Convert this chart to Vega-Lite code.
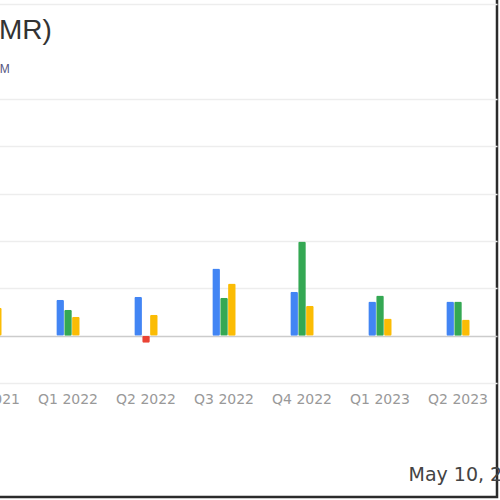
{
  "$schema": "https://vega.github.io/schema/vega-lite/v6.json",
  "width": 546,
  "height": 502,
  "autosize": {"type": "none"},
  "padding": {"left": -49, "top": -5, "right": 3, "bottom": 3},
  "background": "white",
  "title": {
    "text": "(AMR)",
    "subtitle": "USD M",
    "anchor": "start",
    "frame": "group",
    "dx": 20,
    "offset": -80,
    "font": "Liberation Sans",
    "fontSize": 28,
    "fontWeight": "normal",
    "color": "#333333",
    "subtitleFont": "Liberation Sans",
    "subtitleFontSize": 12,
    "subtitleColor": "#55557f",
    "subtitlePadding": 19
  },
  "data": {
    "values": [
      {"quarter": "Q4 2021", "series": "Revenue", "value": 0.8},
      {"quarter": "Q4 2021", "series": "Net Income", "value": 0.5},
      {"quarter": "Q4 2021", "series": "EPS", "value": 0.59},
      {"quarter": "Q1 2022", "series": "Revenue", "value": 0.76},
      {"quarter": "Q1 2022", "series": "Net Income", "value": 0.55},
      {"quarter": "Q1 2022", "series": "EPS", "value": 0.4},
      {"quarter": "Q2 2022", "series": "Revenue", "value": 0.82},
      {"quarter": "Q2 2022", "series": "Net Income", "value": -0.15},
      {"quarter": "Q2 2022", "series": "EPS", "value": 0.44},
      {"quarter": "Q3 2022", "series": "Revenue", "value": 1.42},
      {"quarter": "Q3 2022", "series": "Net Income", "value": 0.8},
      {"quarter": "Q3 2022", "series": "EPS", "value": 1.1},
      {"quarter": "Q4 2022", "series": "Revenue", "value": 0.93},
      {"quarter": "Q4 2022", "series": "Net Income", "value": 1.99},
      {"quarter": "Q4 2022", "series": "EPS", "value": 0.63},
      {"quarter": "Q1 2023", "series": "Revenue", "value": 0.72},
      {"quarter": "Q1 2023", "series": "Net Income", "value": 0.85},
      {"quarter": "Q1 2023", "series": "EPS", "value": 0.36},
      {"quarter": "Q2 2023", "series": "Revenue", "value": 0.72},
      {"quarter": "Q2 2023", "series": "Net Income", "value": 0.72},
      {"quarter": "Q2 2023", "series": "EPS", "value": 0.34}
    ]
  },
  "mark": {"type": "bar", "cornerRadius": 1.5},
  "encoding": {
    "x": {
      "field": "quarter",
      "type": "nominal",
      "sort": null,
      "scale": {"paddingInner": 0.7, "paddingOuter": 0.35},
      "axis": {
        "title": "May 10, 2023",
        "titleFont": "DejaVu Sans",
        "titleFontSize": 19,
        "titleFontWeight": "normal",
        "titleColor": "#444444",
        "titleAlign": "left",
        "titleBaseline": "alphabetic",
        "titleX": 457,
        "titleY": 97,
        "offset": -114,
        "domain": false,
        "ticks": false,
        "grid": false,
        "labelAngle": 0,
        "labelFont": "DejaVu Sans",
        "labelFontSize": 14,
        "labelColor": "#999999",
        "labelPadding": 9,
        "labelOverlap": false,
        "labelBound": false,
        "labelFlush": false
      }
    },
    "xOffset": {
      "field": "series",
      "sort": ["Revenue", "Net Income", "EPS"],
      "scale": {"paddingInner": 0.03}
    },
    "y": {
      "field": "value",
      "type": "quantitative",
      "scale": {"domain": [-1, 7], "range": [388, 9.3], "nice": false, "zero": false},
      "axis": {
        "title": null,
        "values": [-1, 0, 1, 2, 3, 4, 5, 7],
        "labels": false,
        "ticks": false,
        "domain": false,
        "grid": true,
        "gridColor": {"condition": {"test": "datum.value === 0", "value": "#cccccc"}, "value": "#ededed"},
        "gridWidth": 1.5
      }
    },
    "color": {
      "condition": {"test": "datum.value < 0", "value": "#EA4335"},
      "field": "series",
      "type": "nominal",
      "scale": {"domain": ["Revenue", "Net Income", "EPS"], "range": ["#4285F4", "#34A853", "#FBBC04"]},
      "legend": null
    }
  },
  "config": {
    "view": {"stroke": "#2b2b2b", "strokeWidth": 2.5}
  }
}
